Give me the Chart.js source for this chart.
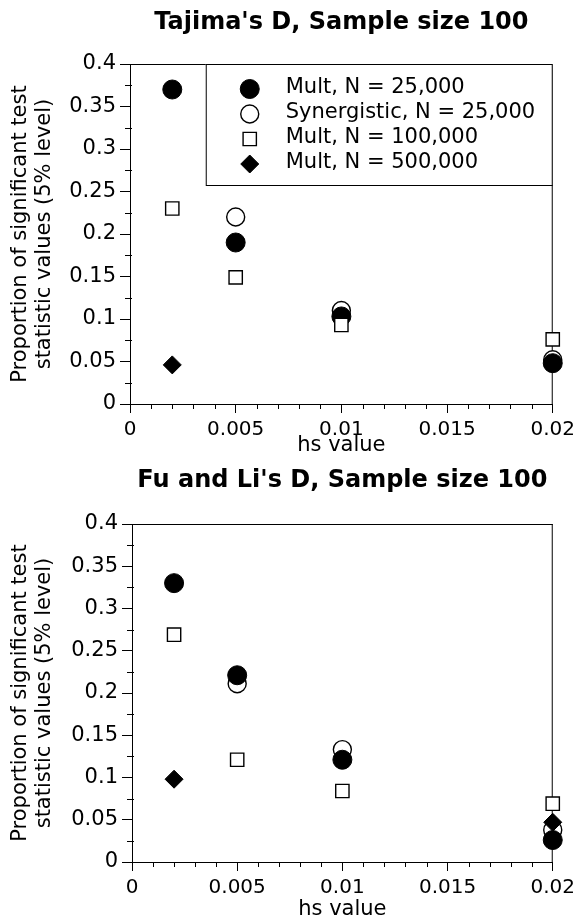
<!DOCTYPE html>
<html><head><meta charset="utf-8">
<script src="https://cdn.jsdelivr.net/npm/chart.js@4"></script>
<style>
html,body{margin:0;padding:0;background:#fff;overflow:hidden;}
#w1{position:absolute;left:0;top:0;width:580px;height:466px;}
#w2{position:absolute;left:0;top:466px;width:580px;height:455px;}
canvas{display:block;}
</style></head><body>
<div id="w1"><canvas id="c1" width="580" height="466"></canvas></div>
<div id="w2"><canvas id="c2" width="580" height="455"></canvas></div>
<script>
// ---- data ----
const hsValues = [0.002, 0.005, 0.01, 0.02];
const seriesLabels = ['Mult, N = 25,000', 'Synergistic, N = 25,000', 'Mult, N = 100,000', 'Mult, N = 500,000'];
const tajimaMult25k  = [0.37, 0.19, 0.103, 0.048];
const tajimaSyn25k   = [null, 0.22, 0.11, 0.052];
const tajimaMult100k = [0.23, 0.149, 0.093, 0.076];
const tajimaMult500k = [0.046, null, null, null];
const fuLiMult25k    = [0.33, 0.221, 0.121, 0.026];
const fuLiSyn25k     = [null, 0.211, 0.133, 0.038];
const fuLiMult100k   = [0.269, 0.121, 0.084, 0.069];
const fuLiMult500k   = [0.098, null, null, 0.047];
const xTickLabels = ['0', '0.005', '0.01', '0.015', '0.02'];
const yTickLabels = ['0', '0.05', '0.1', '0.15', '0.2', '0.25', '0.3', '0.35', '0.4'];
const chartTitles = ["Tajima's D, Sample size 100", "Fu and Li's D, Sample size 100"];
const xAxisTitle = 'hs value';
const yAxisTitle = ['Proportion of significant test', 'statistic values (5% level)'];

Chart.defaults.font.family = "'DejaVu Sans', sans-serif";
Chart.defaults.color = '#000';

const styles = [
  {pointStyle: 'circle',  pointRadius: 9.5, pointBackgroundColor: '#000', pointBorderColor: '#000', pointBorderWidth: 1,   order: 3},
  {pointStyle: 'circle',  pointRadius: 9,   pointBackgroundColor: '#fff', pointBorderColor: '#000', pointBorderWidth: 1.4, order: 4},
  {pointStyle: 'rect',    pointRadius: 9.4, pointBackgroundColor: '#fff', pointBorderColor: '#000', pointBorderWidth: 1.4, order: 2},
  {pointStyle: 'rectRot', pointRadius: 9,   pointBackgroundColor: '#000', pointBorderColor: '#000', pointBorderWidth: 1,   order: 1}
];

function toPoints(arr) {
  return hsValues.map((x, i) => ({x: x, y: arr[i]})).filter(p => p.y !== null);
}
function buildDatasets(seriesList) {
  return seriesList.map((arr, i) => Object.assign({
    label: seriesLabels[i], data: toPoints(arr), showLine: false, clip: false,
    pointHoverRadius: styles[i].pointRadius
  }, styles[i]));
}

const frameAndMinorTicks = {
  id: 'frameAndMinorTicks',
  beforeDatasetsDraw(chart) {
    const {ctx, chartArea: a, scales} = chart;
    const x = scales.x, y = scales.y;
    ctx.save();
    ctx.strokeStyle = '#000';
    ctx.lineWidth = 1;
    ctx.beginPath();
    ctx.moveTo(a.left, a.top + 0.5); ctx.lineTo(a.right, a.top + 0.5);
    ctx.moveTo(a.right - 0.5, a.top); ctx.lineTo(a.right - 0.5, a.bottom);
    for (let k = 1; k < 20; k++) {
      if (k % 5 === 0) continue;
      const px = Math.round(x.getPixelForValue(k * 0.001)) + 0.5;
      ctx.moveTo(px, a.bottom); ctx.lineTo(px, a.bottom + 5);
    }
    for (let k = 0; k < 8; k++) {
      const py = Math.round(y.getPixelForValue(0.025 + k * 0.05)) + 0.5;
      ctx.moveTo(a.left - 5, py); ctx.lineTo(a.left + 2, py);
    }
    ctx.stroke();
    ctx.restore();
  }
};

const boxLegend = {
  id: 'boxLegend',
  afterDraw(chart, args, opts) {
    if (!opts || !opts.show) return;
    const {ctx, chartArea: a} = chart;
    const w = 347, h = 121;
    const left = a.right - w, top = a.top;
    ctx.save();
    ctx.fillStyle = '#fff';
    ctx.fillRect(left, top, w, h);
    ctx.strokeStyle = '#000';
    ctx.lineWidth = 1;
    ctx.strokeRect(left + 0.5, top + 0.5, w - 1, h);
    chart.data.datasets.forEach((ds, i) => {
      const cy = top + 25 + i * 25;
      ctx.fillStyle = ds.pointBackgroundColor;
      ctx.strokeStyle = ds.pointBorderColor;
      ctx.lineWidth = ds.pointBorderWidth;
      Chart.helpers.drawPoint(ctx, {pointStyle: ds.pointStyle, radius: ds.pointRadius, rotation: 0, borderWidth: ds.pointBorderWidth}, left + 44, cy);
      ctx.fillStyle = '#000';
      ctx.font = "21px 'DejaVu Sans'";
      ctx.textBaseline = 'middle';
      ctx.textAlign = 'left';
      ctx.fillText(ds.label, left + 80, cy - 1);
    });
    ctx.restore();
  }
};

function makeChart(id, title, seriesList, g) {
  return new Chart(document.getElementById(id), {
    type: 'scatter',
    data: {datasets: buildDatasets(seriesList)},
    plugins: [frameAndMinorTicks, boxLegend],
    options: {
      responsive: false,
      animation: false,
      events: [],
      layout: {padding: {left: 0, right: g.padRight, top: 0, bottom: 0}},
      plugins: {
        legend: {display: false},
        tooltip: {enabled: false},
        boxLegend: {show: g.legend},
        title: {
          display: true, text: title, fullSize: false, color: '#000',
          font: {size: 24, weight: 'bold', family: "'DejaVu Sans', sans-serif"},
          padding: {top: g.titleTop, bottom: g.titleBottom}
        }
      },
      scales: {
        x: {
          type: 'linear', position: 'bottom', min: 0, max: 0.02,
          ticks: {stepSize: 0.005, padding: 5, maxRotation: 0, autoSkip: false,
                  font: {size: 20}, color: '#000',
                  callback: (v, i) => xTickLabels[i]},
          grid: {drawOnChartArea: false, tickLength: 9, color: '#000', lineWidth: 1},
          border: {color: '#000', width: 1},
          title: {display: true, text: xAxisTitle, color: '#000', font: {size: 21, lineHeight: 1.0},
                  padding: {top: 0, bottom: g.xTitleBottom}},
          afterFit: s => { s.height = g.xHeight; }
        },
        y: {
          type: 'linear', position: 'left', min: 0, max: 0.4,
          ticks: {stepSize: 0.05, padding: 4, font: {size: 21}, color: '#000',
                  callback: (v, i) => yTickLabels[i]},
          grid: {drawOnChartArea: false, tickLength: 10, color: '#000', lineWidth: 1},
          border: {color: '#000', width: 1},
          title: {display: true, text: yAxisTitle, color: '#000', font: {size: 21, lineHeight: 1.143},
                  padding: {top: 8.5, bottom: 0}},
          afterFit: s => { s.width = g.yWidth; }
        }
      }
    }
  });
}

makeChart('c1', chartTitles[0], [tajimaMult25k, tajimaSyn25k, tajimaMult100k, tajimaMult500k],
  {padRight: 25, titleTop: 8.6, titleBottom: 26.6, xHeight: 62, xTitleBottom: 9.5, yWidth: 130, legend: true});
makeChart('c2', chartTitles[1], [fuLiMult25k, fuLiSyn25k, fuLiMult100k, fuLiMult500k],
  {padRight: 23, titleTop: 0.6, titleBottom: 28.6, xHeight: 59, xTitleBottom: 0.5, yWidth: 132, legend: false});
</script>
</body></html>
